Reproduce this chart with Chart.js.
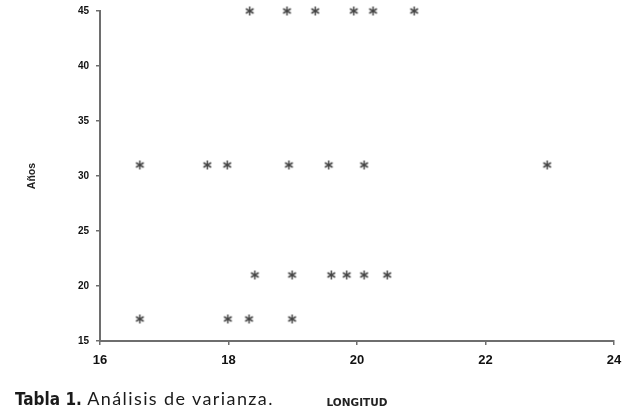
<!DOCTYPE html>
<html>
<head>
<meta charset="utf-8">
<script src="https://cdn.jsdelivr.net/npm/chart.js@4/dist/chart.umd.min.js"></script>
<style>
  html, body { margin: 0; padding: 0; background: #fff; }
  #wrap { position: relative; width: 626px; height: 410px; }
  #c { position: absolute; left: 0; top: 0; }
  #caption { position: absolute; left: 15px; top: 388px; font-family: Lato, "Open Sans", sans-serif; font-size: 18px; line-height: 20px; color: #1a1a1a; white-space: nowrap; letter-spacing: 1.4px; }
  #caption b { font-family: "Liberation Sans Narrow", "DejaVu Sans Condensed", sans-serif; font-weight: bold; font-size: 17px; letter-spacing: 0; }
</style>
</head>
<body>
<div id="wrap">
  <canvas id="c" width="626" height="410"></canvas>
  <div id="caption"><b>Tabla 1.</b> Análisis de varianza.</div>
</div>
<script>
// Data
const longitud = [18.33, 18.91, 19.35, 19.95, 20.25, 20.89,
                  16.62, 17.67, 17.98, 18.94, 19.56, 20.11, 22.96,
                  18.41, 18.99, 19.60, 19.84, 20.11, 20.47,
                  16.62, 17.99, 18.32, 18.99];
const anos = [45, 45, 45, 45, 45, 45,
              31, 31, 31, 31, 31, 31, 31,
              21, 21, 21, 21, 21, 21,
              17, 17, 17, 17];
const xTicks = [16, 18, 20, 22, 24];
const yTicks = [15, 20, 25, 30, 35, 40, 45];
const xTitle = 'LONGITUD';
const yTitle = 'Años';

// asterisk marker
function makeStar() {
  const s = 11, c = document.createElement('canvas');
  c.width = s; c.height = s;
  const g = c.getContext('2d');
  g.strokeStyle = '#444';
  g.lineWidth = 1.5;
  const cx = s / 2, cy = s / 2, r = 4.5;
  [90, 30, 150].forEach(a => {
    const t = a * Math.PI / 180;
    g.beginPath();
    g.moveTo(cx - r * Math.cos(t), cy - r * Math.sin(t));
    g.lineTo(cx + r * Math.cos(t), cy + r * Math.sin(t));
    g.stroke();
  });
  return c;
}
const star = makeStar();

const points = longitud.map((x, i) => ({ x: x, y: anos[i] }));

new Chart(document.getElementById('c'), {
  type: 'scatter',
  data: {
    datasets: [{
      data: points,
      pointStyle: star,
      pointRadius: 5,
      clip: false
    }]
  },
  options: {
    responsive: false,
    animation: false,
    events: [],
    layout: { padding: { left: 0, right: 12, top: 11, bottom: 0 } },
    plugins: { legend: { display: false }, tooltip: { enabled: false } },
    scales: {
      x: {
        type: 'linear',
        min: xTicks[0], max: xTicks[xTicks.length - 1],
        afterBuildTicks: s => { s.ticks = xTicks.map(v => ({ value: v })); },
        afterFit: s => { s.height = 69; s.paddingLeft = 0; s.paddingRight = 0; },
        border: { display: true, color: '#6e6e6e', width: 2 },
        grid: { display: true, drawOnChartArea: false, drawTicks: true, tickLength: 4, color: '#6e6e6e', lineWidth: 1.5 },
        ticks: { padding: 8, color: '#111', font: { family: 'Liberation Sans', size: 13, weight: 'bold' }, maxRotation: 0 },
        title: { display: true, text: xTitle, color: '#222', padding: { top: 2, bottom: 0 }, font: { family: 'DejaVu Sans', size: 10.5, weight: 'bold' } }
      },
      y: {
        type: 'linear',
        min: yTicks[0], max: yTicks[yTicks.length - 1],
        afterBuildTicks: s => { s.ticks = yTicks.map(v => ({ value: v })); },
        afterFit: s => { s.width = 100; s.paddingTop = 0; s.paddingBottom = 0; },
        border: { display: true, color: '#6e6e6e', width: 2 },
        grid: { display: true, drawOnChartArea: false, drawTicks: true, tickLength: 4, color: '#6e6e6e', lineWidth: 1.5 },
        ticks: { padding: 7, color: '#111', font: { family: 'Liberation Sans', size: 10, weight: 'bold' } },
        title: { display: true, text: yTitle, color: '#222', padding: { top: 26, bottom: 0 }, font: { family: 'Liberation Sans', size: 10.5, weight: 'bold' } }
      }
    }
  }
});
</script>
</body>
</html>
